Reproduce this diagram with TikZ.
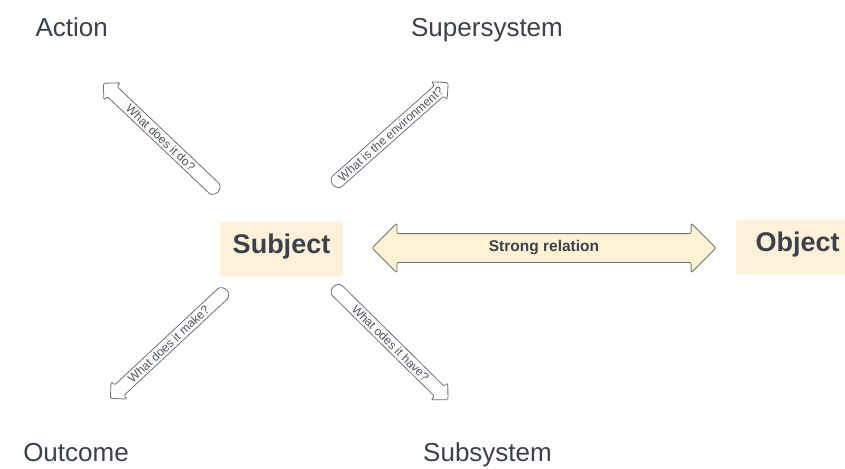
\documentclass[tikz,border=0pt]{standalone}
\usepackage{fontspec}
\setmainfont{Liberation Sans}
\usetikzlibrary{shapes.arrows}

\definecolor{inkgrey}{HTML}{3A414A}
\definecolor{boxfill}{HTML}{FEF0D9}
\definecolor{relfill}{HTML}{FFF2D4}
\definecolor{linegrey}{HTML}{707070}

\tikzset{
    qline/.style={draw=linegrey, fill=white, line width=0.8pt, rounded corners=1.5pt},
    qtext/.style={transform shape, font=\fontsize{12}{14}\selectfont, text=inkgrey!90, inner sep=0pt},
    % question arrow: tail at the origin, tip at #1 along x
    pics/qarrow/.style n args={3}{code={
        \draw[qline] (7pt,-7pt) arc[start angle=270, end angle=90, radius=7pt]
            -- ({#1pt-12pt},7pt) -- ({#1pt-12pt},12pt) -- (#1pt,0pt)
            -- ({#1pt-12pt},-12pt) -- ({#1pt-12pt},-7pt) -- cycle;
        \node[qtext, rotate=#3] (-text) at ({#1pt/2},0pt) {#2};
    }}
}

\begin{document}
\begin{tikzpicture}[
    x=1pt, y=-1pt,
    text=inkgrey,
    term/.style={font=\fontsize{26}{30}\selectfont, anchor=base},
    box/.style={fill=boxfill, rounded corners=3pt, minimum width=123pt, minimum height=55pt,
        font=\fontsize{27}{30}\selectfont\bfseries, text height=15pt, text depth=6pt},
    relarrow/.style={double arrow, draw=linegrey, fill=relfill, line width=0.8pt, rounded corners=2pt,
        minimum height=344pt, double arrow head extend=10.5pt, inner xsep=0pt, inner ysep=6pt,
        text height=11pt, text depth=5pt, font=\fontsize{15.5}{18}\selectfont\bfseries}
]
\useasboundingbox (0,0) rectangle (845,468);

% Corner terms
\node[term] (action) at (71.7,36.7) {Action};
\node[term] (super)  at (487,36.7)  {Supersystem};
\node[term] (outcome) at (76,461.7) {Outcome};
\node[term] (sub)    at (487.5,461.7) {Subsystem};

% Boxes
\node[box] (subject) at (281.5,249) {Subject};
\node[box] (object)  at (797.5,247) {Object};

% Relation
\node[relarrow] (rel) at (544,248) {Strong relation};

% Questions
\pic[rotate=136.5] (qdo)   at (218,192)   {qarrow={158}{What does it do?}{180}};
\pic[rotate=41.6]  (qenv)  at (333,185)   {qarrow={154}{What is the environment?}{0}};
\pic[rotate=223]   (qmake) at (226.7,290) {qarrow={159}{What does it make?}{180}};
\pic[rotate=-44.6] (qhave) at (333.3,286.7) {qarrow={161}{What odes it have?}{0}};

\end{tikzpicture}
\end{document}
